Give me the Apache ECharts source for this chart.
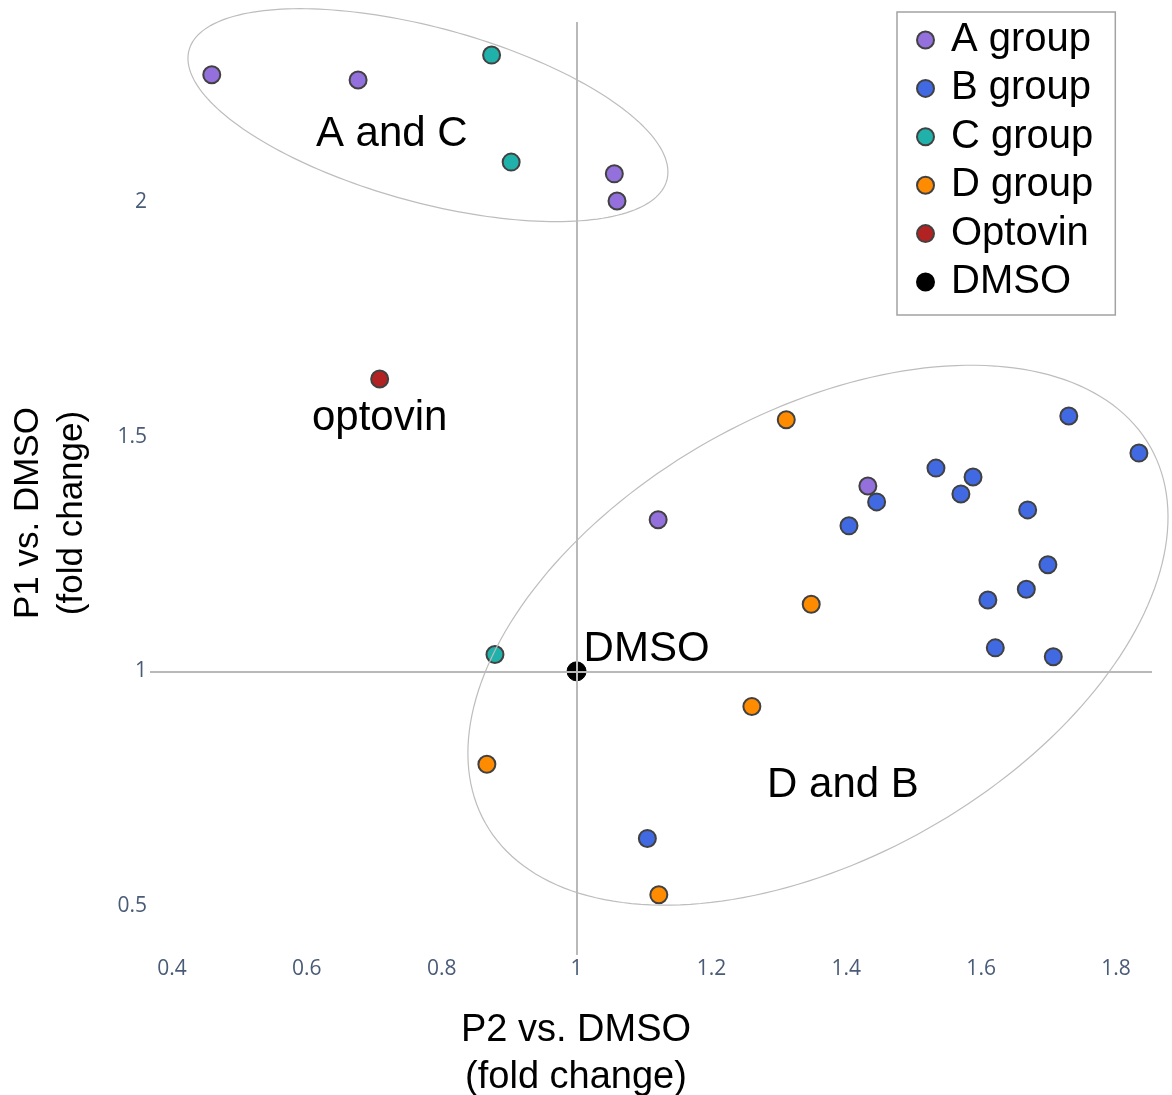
<!DOCTYPE html>
<html>
<head>
<meta charset="utf-8">
<script src="https://cdn.jsdelivr.net/npm/echarts@6/dist/echarts.min.js"></script>
<style>
  html, body { margin: 0; padding: 0; background: #fff; }
  #chart { width: 1172px; height: 1095px; }
</style>
</head>
<body>
<div id="chart"></div>
<script>
// Fold-change values: [P2 vs. DMSO, P1 vs. DMSO]
const groupA = [[0.459, 2.271], [0.676, 2.260], [1.056, 2.060], [1.060, 2.002], [1.432, 1.395], [1.121, 1.323]];
const groupB = [[1.730, 1.544], [1.834, 1.465], [1.533, 1.433], [1.588, 1.414], [1.570, 1.378], [1.445, 1.361],
                [1.404, 1.310], [1.669, 1.344], [1.699, 1.227], [1.667, 1.175], [1.610, 1.152], [1.621, 1.050],
                [1.707, 1.031], [1.105, 0.644]];
const groupC = [[0.874, 2.313], [0.903, 2.085], [0.879, 1.036]];
const groupD = [[1.311, 1.536], [1.348, 1.143], [1.260, 0.925], [0.867, 0.802], [1.122, 0.524]];
const optovin = [[0.708, 1.623]];
const dmso = [[1, 1]];

const xTicks = [0.4, 0.6, 0.8, 1, 1.2, 1.4, 1.6, 1.8];
const yTicks = [0.5, 1, 1.5, 2];

const seriesNames = ['A group', 'B group', 'C group', 'D group', 'Optovin', 'DMSO'];
const seriesColors = ['#9370db', '#4169e1', '#20b2aa', '#ff8c00', '#b22222', '#000000'];

// Cluster outlines: centre in data units, semi-axes in pixels, tilt in degrees (clockwise on screen)
const clusters = [
  { center: [0.7796, 2.185], rx: 247.6, ry: 87.3, tilt: 15.25, text: 'A and C', textAt: [0.726, 2.143] },
  { center: [1.358, 1.077], rx: 382, ry: 222.5, tilt: -29.5, text: 'D and B', textAt: [1.395, 0.756] }
];

const sansFont = '"Liberation Sans", Arial, Helvetica, sans-serif';
const tickFont = '"Open Sans", "Noto Sans", sans-serif';

const chart = echarts.init(document.getElementById('chart'), null, { renderer: 'canvas' });

function pointSeries(name, data, color, extra) {
  return Object.assign({
    name: name,
    type: 'scatter',
    data: data,
    symbol: 'circle',
    symbolSize: 17,
    z: 3,
    itemStyle: { color: color, borderColor: '#414141', borderWidth: 2, opacity: 1 },
    emphasis: { disabled: true }
  }, extra || {});
}

const option = {
  animation: false,
  backgroundColor: '#ffffff',
  grid: { left: 150, right: 20, top: 22, bottom: 140, containLabel: false },
  xAxis: {
    type: 'value',
    min: 0.3674,
    max: 1.8534,
    axisLine: { show: false },
    axisTick: { show: false },
    splitLine: { show: false },
    axisLabel: {
      customValues: xTicks,
      margin: 4,
      color: '#4a5b78',
      fontSize: 21,
      fontFamily: tickFont,
      formatter: v => String(+v.toFixed(2))
    }
  },
  yAxis: {
    type: 'value',
    min: 0.3956,
    max: 2.3835,
    axisLine: { show: false },
    axisTick: { show: false },
    splitLine: { show: false },
    axisLabel: {
      customValues: yTicks,
      margin: 3,
      color: '#4a5b78',
      fontSize: 21,
      fontFamily: tickFont,
      formatter: v => String(+v.toFixed(2))
    }
  },
  legend: {
    orient: 'vertical',
    left: 897,
    top: 12,
    data: seriesNames,
    icon: 'circle',
    itemWidth: 17,
    itemHeight: 17,
    itemGap: 8.4,
    padding: [8, 22, 13, 19],
    borderColor: '#a3a3a3',
    borderWidth: 1.5,
    backgroundColor: '#ffffff',
    selectedMode: false,
    textStyle: {
      fontSize: 40,
      lineHeight: 40,
      fontFamily: sansFont,
      color: '#000',
      padding: [0, 0, 0, 12]
    }
  },
  graphic: [
    {
      type: 'text',
      x: 576,
      y: 1054,
      style: {
        text: 'P2 vs. DMSO\n(fold change)',
        fontSize: 38,
        lineHeight: 47,
        fontFamily: sansFont,
        fill: '#000',
        align: 'center',
        verticalAlign: 'middle'
      }
    },
    {
      type: 'text',
      x: 50,
      y: 513,
      rotation: Math.PI / 2,
      style: {
        text: 'P1 vs. DMSO\n(fold change)',
        fontSize: 35,
        lineHeight: 44,
        fontFamily: sansFont,
        fill: '#000',
        align: 'center',
        verticalAlign: 'middle'
      }
    }
  ],
  series: [
    // reference lines through the DMSO baseline (fold change = 1)
    {
      name: 'baseline',
      type: 'scatter',
      data: [],
      z: 1,
      silent: true,
      markLine: {
        silent: true,
        symbol: 'none',
        animation: false,
        label: { show: false },
        lineStyle: { color: '#b9b9b9', width: 2, type: 'solid' },
        data: [{ xAxis: 1 }, { yAxis: 1 }]
      }
    },
    pointSeries('A group', groupA, seriesColors[0]),
    pointSeries('B group', groupB, seriesColors[1]),
    pointSeries('C group', groupC, seriesColors[2]),
    pointSeries('D group', groupD, seriesColors[3]),
    pointSeries('Optovin', optovin, seriesColors[4], {
      label: {
        show: true,
        position: 'bottom',
        distance: 9,
        formatter: 'optovin',
        fontSize: 42,
        lineHeight: 42,
        fontFamily: sansFont,
        color: '#000'
      }
    }),
    pointSeries('DMSO', dmso, seriesColors[5], {
      symbolSize: 19,
      itemStyle: { color: '#000', borderColor: '#000', borderWidth: 1, opacity: 1 },
      label: {
        show: true,
        position: [17, -12],
        align: 'left',
        verticalAlign: 'middle',
        formatter: 'DMSO',
        fontSize: 42,
        fontFamily: sansFont,
        color: '#000'
      }
    }),
    // cluster outlines with their captions
    {
      name: 'clusters',
      type: 'custom',
      z: 4,
      silent: true,
      clip: false,
      data: clusters.map(c => c.center),
      renderItem: function (params, api) {
        const c = clusters[params.dataIndex];
        const ctr = api.coord([api.value(0), api.value(1)]);
        const th = c.tilt * Math.PI / 180;
        const pts = [];
        const n = 200;
        for (let i = 0; i < n; i++) {
          const t = i / n * 2 * Math.PI;
          const ex = c.rx * Math.cos(t);
          const ey = c.ry * Math.sin(t);
          pts.push([ctr[0] + ex * Math.cos(th) - ey * Math.sin(th),
                    ctr[1] + ex * Math.sin(th) + ey * Math.cos(th)]);
        }
        const tp = api.coord(c.textAt);
        return {
          type: 'group',
          children: [
            {
              type: 'polygon',
              shape: { points: pts },
              style: { fill: 'none', stroke: '#bdbdbd', lineWidth: 1.2 }
            },
            {
              type: 'text',
              x: tp[0],
              y: tp[1],
              style: {
                text: c.text,
                fontSize: 42,
                fontFamily: sansFont,
                fill: '#000',
                align: 'center',
                verticalAlign: 'middle'
              }
            }
          ]
        };
      }
    }
  ]
};

chart.setOption(option);
</script>
</body>
</html>
